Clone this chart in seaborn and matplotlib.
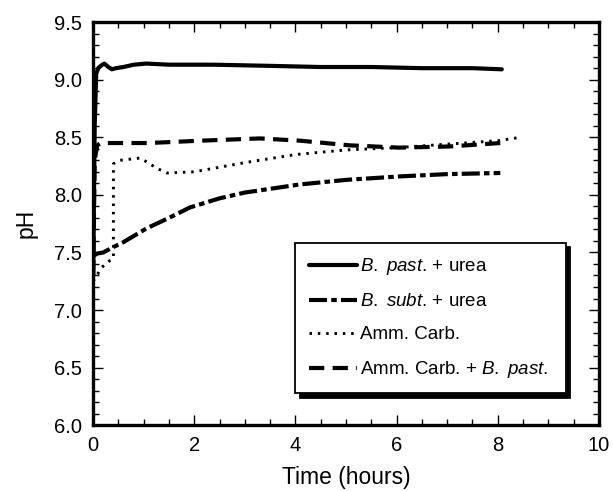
import numpy as np
import pandas as pd
import seaborn as sns
import matplotlib.pyplot as plt

# Data (time in hours, pH)
t_bpast = [0.0, 0.03, 0.06, 0.1, 0.15, 0.22, 0.3, 0.37, 0.45, 0.6, 0.8, 1.05, 1.5, 2.4, 3.5, 4.5, 5.5, 6.5, 7.5, 8.08]
ph_bpast = [7.3, 8.6, 9.05, 9.1, 9.12, 9.14, 9.11, 9.09, 9.1, 9.11, 9.13, 9.14, 9.13, 9.13, 9.12, 9.11, 9.11, 9.1, 9.1, 9.09]

t_bsubt = [0.0, 0.08, 0.2, 0.37, 0.6, 1.06, 1.5, 1.91, 2.5, 3.0, 4.08, 5.0, 6.05, 7.0, 8.05]
ph_bsubt = [7.47, 7.49, 7.5, 7.54, 7.59, 7.71, 7.8, 7.89, 7.97, 8.02, 8.09, 8.13, 8.16, 8.18, 8.19]

t_amm = [0.0, 0.17, 0.33, 0.4, 0.4, 0.53, 0.93, 1.08, 1.26, 1.46, 2.0, 3.0, 4.0, 5.0, 6.0, 7.0, 8.0, 8.46]
ph_amm = [7.25, 7.37, 7.43, 7.45, 8.27, 8.3, 8.32, 8.28, 8.23, 8.19, 8.2, 8.28, 8.35, 8.39, 8.41, 8.44, 8.47, 8.5]

t_amm_bp = [0.0, 0.03, 0.08, 0.15, 1.1, 2.1, 3.3, 4.1, 5.07, 6.05, 7.04, 8.05]
ph_amm_bp = [7.3, 8.3, 8.43, 8.45, 8.45, 8.47, 8.49, 8.47, 8.43, 8.41, 8.42, 8.45]

labels = [r'$\mathit{B.}$ $\mathit{past}$. + urea',
          r'$\mathit{B.}$ $\mathit{subt}$. + urea',
          'Amm. Carb.',
          r'Amm. Carb. + $\mathit{B.}$ $\mathit{past.}$']

sns.set_style('ticks')
plt.rcParams['font.family'] = ['Liberation Sans', 'DejaVu Sans']
plt.rcParams['mathtext.fontset'] = 'custom'
plt.rcParams['mathtext.rm'] = 'Liberation Sans'
plt.rcParams['mathtext.it'] = 'Liberation Sans:italic'
plt.rcParams['lines.scale_dashes'] = False
for k in ['text.color', 'axes.labelcolor', 'xtick.color', 'ytick.color']:
    plt.rcParams[k] = 'black'

fig = plt.figure(figsize=(6.13, 4.91), dpi=100)
ax = fig.add_axes([0.152, 0.134, 0.825, 0.821])

styles = [('-', 3.0), ((0, (13, 3, 4, 3)), 3.0), ((0, (1.8, 4.2)), 2.1), ((0, (11, 6)), 3.0)]
series = [(t_bpast, ph_bpast), (t_bsubt, ph_bsubt), (t_amm, ph_amm), (t_amm_bp, ph_amm_bp)]
for (x, y), (ls, lw), lab in zip(series, styles, labels):
    sns.lineplot(x=x, y=y, ax=ax, color='black', linestyle=ls, linewidth=lw,
                 label=lab, sort=False, estimator=None)

ax.set_xlim(0, 10)
ax.set_ylim(6.0, 9.5)
ax.set_xticks(np.arange(0, 11, 2))
ax.set_yticks(np.arange(6.0, 9.51, 0.5))
ax.set_yticklabels([f'{v:.1f}' for v in np.arange(6.0, 9.51, 0.5)])
ax.set_xticks(np.arange(0, 10.01, 0.5), minor=True)
ax.set_yticks(np.arange(6.0, 9.51, 0.1), minor=True)
ax.tick_params(which='both', direction='in', top=True, right=True, labelsize=14.5, width=1)
ax.tick_params(which='major', length=7, pad=8)
ax.tick_params(which='minor', length=4)
for s in ax.spines.values():
    s.set_linewidth(2.4)
    s.set_color('black')

ax.set_xlabel('Time (hours)', fontsize=16.5, labelpad=8)
ax.set_ylabel('pH', fontsize=16.5, labelpad=12)

leg = ax.legend(loc='lower left', bbox_to_anchor=(0.40, 0.079, 0.535, 0.368), mode='expand',
                fontsize=13.5, frameon=True, fancybox=False, edgecolor='black',
                handlelength=2.6, handletextpad=0.15, labelspacing=0.85,
                borderpad=0.7, borderaxespad=0,
                shadow={'color': 'black', 'alpha': 1, 'ox': 3, 'oy': -3})
leg.get_frame().set_linewidth(1.3)
leg.get_frame().set_alpha(1)

fig.savefig('out.png', dpi=100)
